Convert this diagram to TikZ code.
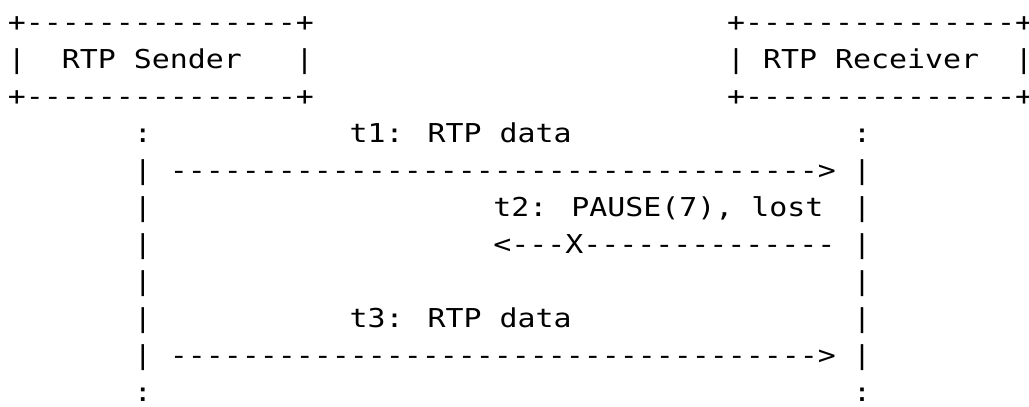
\documentclass[tikz,border=0pt]{standalone}
\usepackage{fontspec}
\newfontfamily\asc[FakeStretch=1.15]{DejaVu Sans Mono}
\ExplSyntaxOn
\cs_new:Npn \asciirep #1 #2 { \prg_replicate:nn {#1} {#2} }
\ExplSyntaxOff
\newcommand\dashrun[1]{\asciirep{#1}{-\kern0pt}}
\tikzset{
  txt/.style={anchor=base west, inner sep=0pt, outer sep=0pt,
    font=\asc\fontsize{26}{37}\selectfont, text=black},
}
\begin{document}
\begin{tikzpicture}
\useasboundingbox (0,0) rectangle (1029pt,407pt);
\begin{scope}[shift={(8pt,375pt)}, x=17.98pt, y=-37pt]
% sender box
\node[txt] (sTop) at (0,0) {+\dashrun{15}+};
\node[txt] (sL) at (0,1) {|};
\node[txt] (sLabel) at (3,1) {RTP Sender};
\node[txt] (sR) at (16,1) {|};
\node[txt] (sBot) at (0,2) {+\dashrun{15}+};
% receiver box
\node[txt] (rTop) at (40,0) {+\dashrun{15}+};
\node[txt] (rL) at (40,1) {|};
\node[txt] (rLabel) at (42,1) {RTP Receiver};
\node[txt] (rR) at (56,1) {|};
\node[txt] (rBot) at (40,2) {+\dashrun{15}+};
% row 4
\node[txt] (sA) at (7,3) {:};
\node[txt] (t1) at (19,3) {t1: RTP data};
\node[txt] (rA) at (47,3) {:};
% row 5
\node[txt] (sB) at (7,4) {|};
\node[txt] (a1) at (9,4) {\dashrun{36}>};
\node[txt] (rB) at (47,4) {|};
% row 6
\node[txt] (sC) at (7,5) {|};
\node[txt] (t2) at (27,5) {t2: PAUSE(7), lost};
\node[txt] (rC) at (47,5) {|};
% row 7
\node[txt] (sD) at (7,6) {|};
\node[txt] (a2) at (27,6) {<\dashrun{3}X\dashrun{14}};
\node[txt] (rD) at (47,6) {|};
% row 8
\node[txt] (sE) at (7,7) {|};
\node[txt] (rE) at (47,7) {|};
% row 9
\node[txt] (sF) at (7,8) {|};
\node[txt] (t3) at (19,8) {t3: RTP data};
\node[txt] (rF) at (47,8) {|};
% row 10
\node[txt] (sG) at (7,9) {|};
\node[txt] (a3) at (9,9) {\dashrun{36}>};
\node[txt] (rG) at (47,9) {|};
% row 11
\node[txt] (sH) at (7,10) {:};
\node[txt] (rH) at (47,10) {:};
\end{scope}
\end{tikzpicture}
\end{document}
